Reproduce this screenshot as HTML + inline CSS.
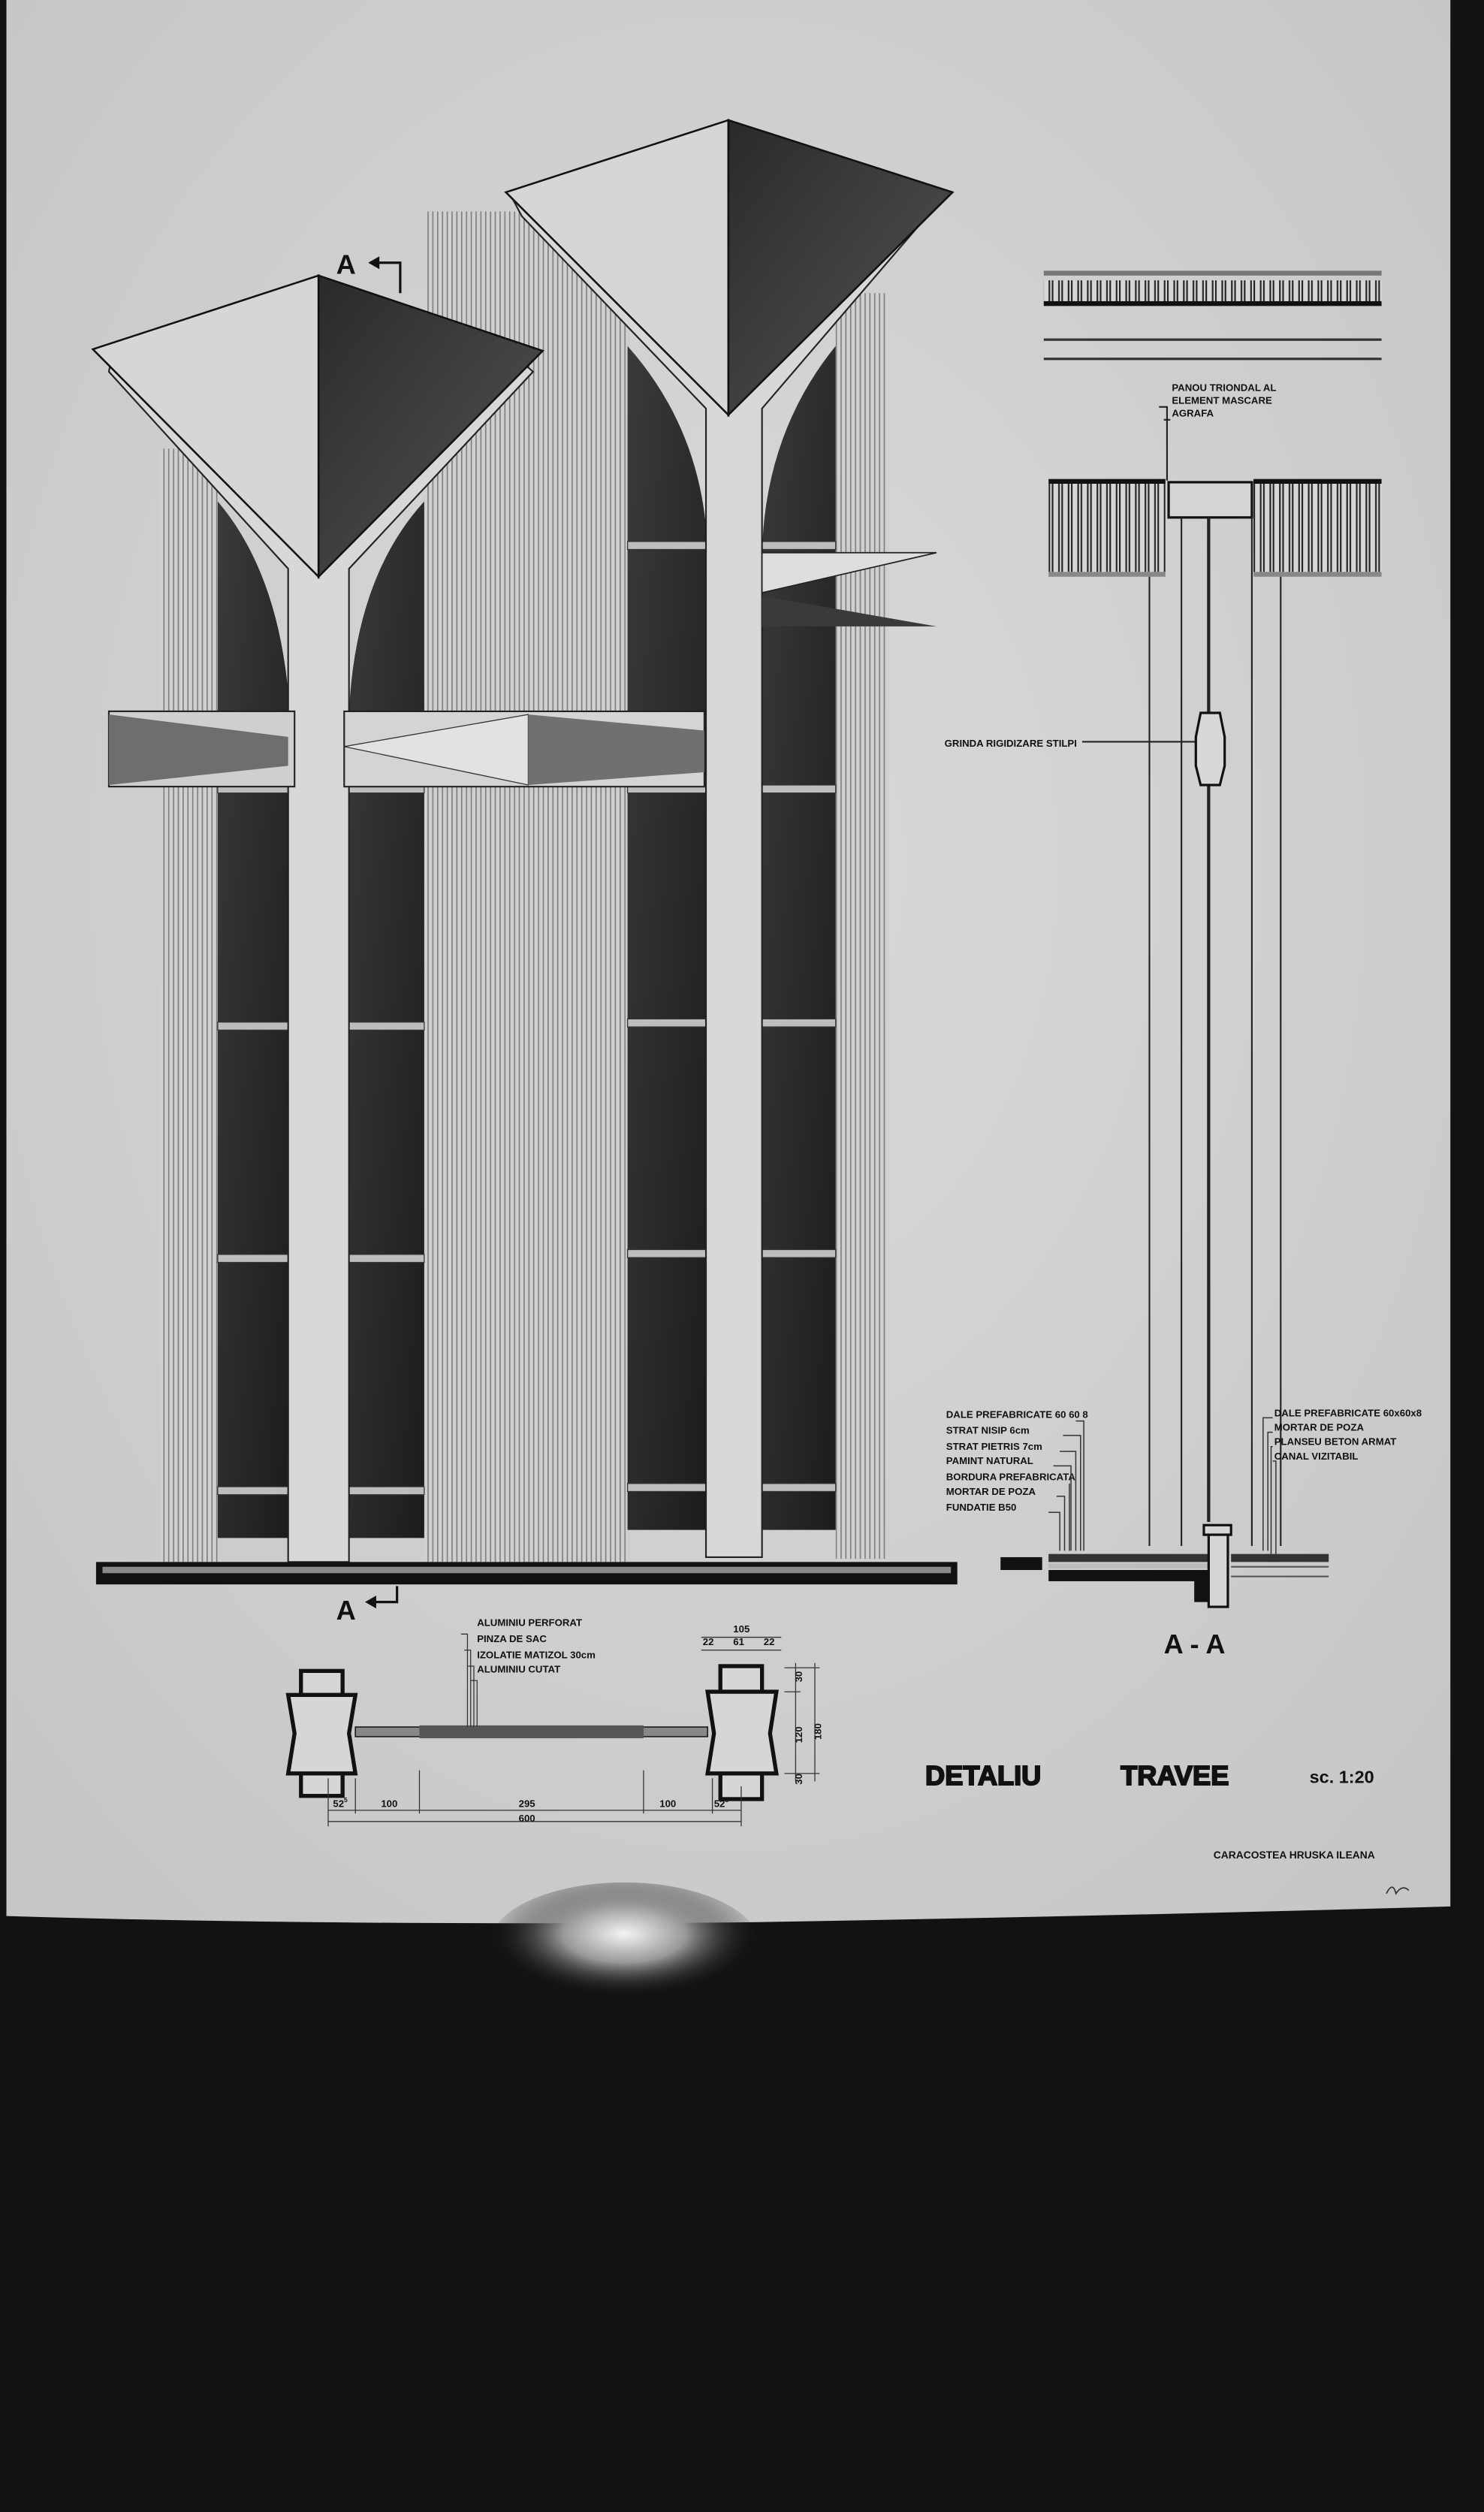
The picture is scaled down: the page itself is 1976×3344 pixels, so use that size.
<!DOCTYPE html>
<html><head><meta charset="utf-8"><style>
html,body{margin:0;padding:0;background:#111;}
svg{display:block}
text{font-family:"Liberation Sans",sans-serif;font-weight:bold;fill:#111}
</style></head><body>
<svg width="1976" height="3344" viewBox="0 0 927 1568" preserveAspectRatio="none" xmlns="http://www.w3.org/2000/svg">
<defs>
<pattern id="st" width="3" height="10" patternUnits="userSpaceOnUse"><rect width="3" height="10" fill="#d0d0d0"/><rect width="0.8" height="10" fill="#808080"/></pattern>
<pattern id="hb" width="6" height="20" patternUnits="userSpaceOnUse"><rect width="6" height="20" fill="#d6d6d6"/><rect x="1" width="1" height="20" fill="#222"/><rect x="3" width="1" height="20" fill="#222"/></pattern>
<linearGradient id="win" x1="0" y1="0" x2="1" y2="1"><stop offset="0" stop-color="#3a3a3a"/><stop offset="1" stop-color="#1c1c1c"/></linearGradient>
<linearGradient id="face" x1="0" y1="0" x2="1" y2="1"><stop offset="0" stop-color="#2a2a2a"/><stop offset="1" stop-color="#555"/></linearGradient>
<radialGradient id="glare" cx="0.5" cy="0.4" r="0.5"><stop offset="0" stop-color="#f4f4f4"/><stop offset="0.45" stop-color="#999"/><stop offset="1" stop-color="#111" stop-opacity="0"/></radialGradient>
<radialGradient id="paper" cx="0.5" cy="0.45" r="0.7"><stop offset="0" stop-color="#dadada"/><stop offset="1" stop-color="#c6c6c6"/></radialGradient>
</defs>
<rect width="927" height="1568" fill="#121212"/>
<path d="M4 0 H906 V1190 Q700 1196 460 1200 Q200 1202 4 1196 Z" fill="url(#paper)"/>
<ellipse cx="390" cy="1215" rx="85" ry="40" fill="url(#glare)"/>

<rect x="100" y="280" width="36" height="695" fill="url(#st)"/>
<rect x="265" y="132" width="128" height="843" fill="url(#st)"/>
<rect x="522" y="183" width="33" height="790" fill="url(#st)"/>
<path d="M136 313 Q176 360 181 445 V960 H136 Z" fill="url(#win)"/>
<path d="M265 313 Q222 360 218 445 V960 H265 Z" fill="url(#win)"/>
<path d="M392 216 Q440 270 442 345 V955 H392 Z" fill="url(#win)"/>
<path d="M522 216 Q478 270 476 345 V955 H522 Z" fill="url(#win)"/>
<g fill="#bdbdbd" stroke="#333" stroke-width="0.6">
<rect x="136" y="638" width="45" height="5"/><rect x="218" y="638" width="47" height="5"/>
<rect x="136" y="783" width="45" height="5"/><rect x="218" y="783" width="47" height="5"/>
<rect x="136" y="928" width="45" height="5"/><rect x="218" y="928" width="47" height="5"/>
<rect x="392" y="338" width="50" height="5"/><rect x="476" y="338" width="46" height="5"/>
<rect x="392" y="490" width="50" height="5"/><rect x="476" y="490" width="46" height="5"/>
<rect x="392" y="636" width="50" height="5"/><rect x="476" y="636" width="46" height="5"/>
<rect x="392" y="780" width="50" height="5"/><rect x="476" y="780" width="46" height="5"/>
<rect x="392" y="926" width="50" height="5"/><rect x="476" y="926" width="46" height="5"/>
<rect x="136" y="490" width="45" height="5"/><rect x="218" y="490" width="47" height="5"/>
</g>
<g fill="#d8d8d8" stroke="#222" stroke-width="1">
<path d="M68 232 L180 355 V975 H218 V355 L333 232 L326 226 L199 360 L70 222 Z"/>
<path d="M326 135 L441 255 V972 H476 V255 L585 128 L455 259 L318 120 Z"/>
</g>
<path d="M58 218 L199 172 L199 360 Z" fill="#d6d6d6" stroke="#111" stroke-width="1.2"/>
<path d="M199 172 L339 219 L199 360 Z" fill="url(#face)" stroke="#111" stroke-width="1.2"/>
<path d="M316 120 L455 75 L455 259 Z" fill="#d6d6d6" stroke="#111" stroke-width="1.2"/>
<path d="M455 75 L595 120 L455 259 Z" fill="url(#face)" stroke="#111" stroke-width="1.2"/>
<rect x="68" y="444" width="116" height="47" fill="#cfcfcf" stroke="#222"/>
<path d="M68 446 L180 460 V478 L68 490 Z" fill="#6e6e6e"/>
<path d="M215 444 H440 V491 H215 Z" fill="#d4d4d4" stroke="#222"/>
<path d="M215 466 L330 446 V490 Z" fill="#e2e2e2" stroke="#333" stroke-width="0.6"/>
<path d="M330 446 L440 456 V482 L330 490 Z" fill="#707070"/>
<path d="M476 345 L585 345 L476 370 Z" fill="#dedede" stroke="#222" stroke-width="0.8"/>
<path d="M476 372 L585 391 L476 391 Z" fill="#3a3a3a"/>
<rect x="60" y="975" width="538" height="14" fill="#111"/>
<rect x="64" y="978" width="530" height="4" fill="#888"/>
<text x="210" y="171" font-size="17">A</text>
<path d="M250 183 V164 H236" stroke="#111" stroke-width="1.5" fill="none"/>
<path d="M230 164 l7 -4 v8 z" fill="#111"/>
<text x="210" y="1011" font-size="17">A</text>
<path d="M248 990 V1000 H234" stroke="#111" stroke-width="1.5" fill="none"/>
<path d="M228 1000 l7 -4 v8 z" fill="#111"/>

<rect x="652" y="169" width="211" height="3" fill="#777"/>
<rect x="652" y="175" width="211" height="14" fill="url(#hb)"/>
<rect x="652" y="188" width="211" height="3" fill="#111"/>
<line x1="652" y1="212" x2="863" y2="212" stroke="#333" stroke-width="1.5"/>
<line x1="652" y1="224" x2="863" y2="224" stroke="#333" stroke-width="1.5"/>
<rect x="655" y="299" width="73" height="3" fill="#111"/>
<rect x="655" y="302" width="73" height="55" fill="url(#hb)"/>
<rect x="783" y="299" width="80" height="3" fill="#111"/>
<rect x="783" y="302" width="80" height="55" fill="url(#hb)"/>
<rect x="655" y="357" width="73" height="3" fill="#888"/><rect x="783" y="357" width="80" height="3" fill="#888"/>
<rect x="730" y="301" width="52" height="22" fill="#d4d4d4" stroke="#111" stroke-width="1.5"/>
<g stroke="#222" stroke-width="1" fill="none">
<line x1="755" y1="323" x2="755" y2="950" stroke-width="2"/>
<line x1="718" y1="360" x2="718" y2="965"/>
<line x1="738" y1="323" x2="738" y2="965"/>
<line x1="782" y1="323" x2="782" y2="965"/>
<line x1="800" y1="360" x2="800" y2="965"/>
<path d="M724 254 H729 V300 M727 262 H731"/>
<path d="M676 463 H748"/>
</g>
<path d="M750 445 L762 445 L765 460 L765 478 L762 490 L750 490 L747 478 L747 460 Z" fill="#d8d8d8" stroke="#111" stroke-width="1.5"/>
<text x="732" y="244" font-size="6.2">PANOU TRIONDAL AL</text>
<text x="732" y="252" font-size="6.2">ELEMENT MASCARE</text>
<text x="732" y="260" font-size="6.2">AGRAFA</text>
<text x="590" y="466" font-size="6.2">GRINDA RIGIDIZARE STILPI</text>
<g font-size="6.2">
<text x="591" y="885">DALE PREFABRICATE 60 60 8</text>
<text x="591" y="895">STRAT NISIP 6cm</text>
<text x="591" y="905">STRAT PIETRIS 7cm</text>
<text x="591" y="914">PAMINT NATURAL</text>
<text x="591" y="924">BORDURA PREFABRICATA</text>
<text x="591" y="933">MORTAR DE POZA</text>
<text x="591" y="943">FUNDATIE B50</text>
<text x="796" y="884">DALE PREFABRICATE 60x60x8</text>
<text x="796" y="893">MORTAR DE POZA</text>
<text x="796" y="902">PLANSEU BETON ARMAT</text>
<text x="796" y="911">CANAL VIZITABIL</text>
</g>
<g stroke="#333" stroke-width="0.7" fill="none">
<path d="M672 887 H677 V968 M664 896 H675 V968 M662 906 H672 V968 M658 915 H669 V968 M668 926 V968 M660 934 H665 V968 M655 944 H662 V968"/>
<path d="M795 885 H789 V968 M795 894 H792 V968 M795 903 H794 V975 M795 912 H797 V975"/>
</g>
<rect x="625" y="972" width="26" height="8" fill="#111"/>
<rect x="655" y="970" width="100" height="5" fill="#333"/>
<rect x="655" y="976" width="100" height="3" fill="#bbb"/>
<rect x="655" y="980" width="100" height="7" fill="#111"/>
<rect x="746" y="980" width="10" height="20" fill="#111"/>
<rect x="752" y="952" width="17" height="6" fill="#d6d6d6" stroke="#111" stroke-width="1.5"/>
<rect x="755" y="958" width="12" height="45" fill="#d6d6d6" stroke="#111" stroke-width="1.5"/>
<rect x="769" y="970" width="61" height="5" fill="#333"/>
<line x1="769" y1="978" x2="830" y2="978" stroke="#555" stroke-width="1"/>
<line x1="769" y1="984" x2="830" y2="984" stroke="#555" stroke-width="1"/>
<text x="727" y="1032" font-size="17">A - A</text>

<g stroke="#111" stroke-width="2.5" fill="#d6d6d6">
<rect x="188" y="1043" width="26" height="15"/><rect x="188" y="1106" width="26" height="15"/>
<path d="M180 1058 H222 L218 1082 L222 1107 H180 L184 1082 Z"/>
<rect x="450" y="1040" width="26" height="16"/><rect x="450" y="1107" width="26" height="16"/>
<path d="M442 1056 H485 L481 1082 L485 1107 H442 L446 1082 Z"/>
</g>
<rect x="222" y="1078" width="220" height="6" fill="#888" stroke="#222" stroke-width="0.8"/>
<rect x="262" y="1077" width="140" height="8" fill="#555"/>
<g stroke="#333" stroke-width="0.6" fill="none">
<path d="M288 1020 H292 V1078 M290 1030 H294 V1078 M292 1040 H296 V1078 M294 1049 H298 V1078"/>
<path d="M205 1130 H463 M205 1137 H463 M205 1110 V1140 M222 1110 V1132 M262 1105 V1132 M402 1105 V1132 M445 1110 V1132 M463 1115 V1140"/>
<path d="M438 1030 H488 M438 1022 H488 M497 1038 V1112 M509 1038 V1112 M490 1041 H512 M490 1056 H500 M490 1107 H512"/>
</g>
<g font-size="6.2">
<text x="298" y="1015">ALUMINIU PERFORAT</text>
<text x="298" y="1025">PINZA DE SAC</text>
<text x="298" y="1035">IZOLATIE MATIZOL 30cm</text>
<text x="298" y="1044">ALUMINIU CUTAT</text>
<text x="458" y="1019">105</text>
<text x="439" y="1027">22</text><text x="458" y="1027">61</text><text x="477" y="1027">22</text>
<text x="208" y="1128">52<tspan font-size="4" dy="-3">5</tspan></text>
<text x="238" y="1128">100</text>
<text x="324" y="1128">295</text>
<text x="412" y="1128">100</text>
<text x="446" y="1128">52<tspan font-size="4" dy="-3">5</tspan></text>
<text x="324" y="1137">600</text>
<text transform="translate(501,1050) rotate(-90)">30</text>
<text transform="translate(501,1088) rotate(-90)">120</text>
<text transform="translate(513,1086) rotate(-90)">180</text>
<text transform="translate(501,1114) rotate(-90)">30</text>
</g>
<g stroke="#111" stroke-width="0.9">
<text x="578" y="1114" font-size="17" font-weight="900">DETALIU</text>
<text x="700" y="1114" font-size="17" font-weight="900">TRAVEE</text>
</g>
<text x="818" y="1113" font-size="11">sc. 1:20</text>
<text x="758" y="1160" font-size="6.5">CARACOSTEA HRUSKA ILEANA</text>
<path d="M866 1182 q4 -8 6 0 q4 -6 8 -2" stroke="#333" fill="none" stroke-width="0.8"/>
</svg>
</body></html>
